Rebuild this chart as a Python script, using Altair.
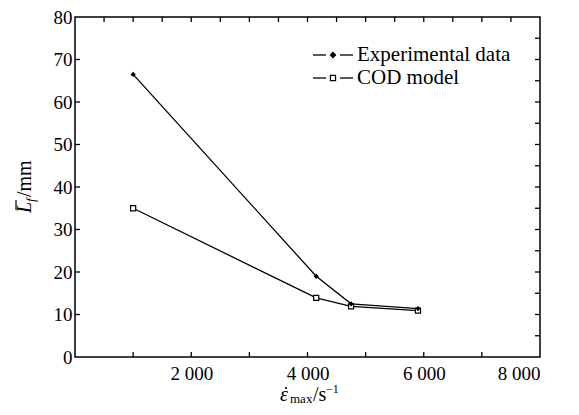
import altair as alt
import pandas as pd

# ---- data ----
strain_rate = [1000, 4150, 4750, 5900]
exp_data = [66.5, 19.0, 12.5, 11.4]
cod_model = [35.0, 13.9, 11.9, 10.9]

x_label_values = [0, 2000, 4000, 6000, 8000]
y_label_values = [0, 10, 20, 30, 40, 50, 60, 70, 80]
bottom_ticks = [1000, 2000, 3000, 4000, 5000, 6000, 7000]
top_ticks = [500 * i for i in range(1, 16)]
left_ticks = [10, 20, 30, 40, 50, 60, 70]
right_ticks = [5 * i for i in range(1, 16)]

W, H = 465, 340
FONT = "Times New Roman, Liberation Serif, serif"
FS = 19

df = pd.DataFrame({
    "rate": strain_rate * 2,
    "L": exp_data + cod_model,
    "series": ["Experimental data"] * 4 + ["COD model"] * 4,
})
df_exp = df[df.series == "Experimental data"]
df_cod = df[df.series == "COD model"]

xs = alt.Scale(domain=[0, 8000], nice=False)
ys = alt.Scale(domain=[0, 80], nice=False)

lines = alt.Chart(df).mark_line(color="black", strokeWidth=1.3).encode(
    x=alt.X("rate:Q", scale=xs, title=None,
            axis=alt.Axis(values=x_label_values, domain=False, ticks=False, grid=False,
                          tickSize=0, labelPadding=7, labelFont=FONT, labelFontSize=FS,
                          labelColor="black",
                          labelExpr="datum.value > 0 ? replace(format(datum.value, ','), ',', ' ') : ''")),
    y=alt.Y("L:Q", scale=ys, title=None,
            axis=alt.Axis(values=y_label_values, domain=False, ticks=False, grid=False,
                          tickSize=0, labelPadding=3, labelFont=FONT, labelFontSize=FS,
                          labelColor="black", labelOverlap=False)),
    detail="series:N",
)

pts_exp = alt.Chart(df_exp).mark_point(shape="diamond", filled=True, color="black", size=28, opacity=1).encode(
    x=alt.X("rate:Q", scale=xs), y=alt.Y("L:Q", scale=ys))
pts_cod = alt.Chart(df_cod).mark_point(shape="square", filled=True, fill="white", stroke="black",
                                       strokeWidth=1.2, size=26, opacity=1).encode(
    x=alt.X("rate:Q", scale=xs), y=alt.Y("L:Q", scale=ys))

def vticks(vals, y0, y1):
    return alt.Chart(pd.DataFrame({"v": vals})).mark_rule(color="black", strokeWidth=1.3).encode(
        x=alt.X("v:Q", scale=xs), y=alt.value(y0), y2=alt.value(y1))

def hticks(vals, x0, x1):
    return alt.Chart(pd.DataFrame({"v": vals})).mark_rule(color="black", strokeWidth=1.3).encode(
        y=alt.Y("v:Q", scale=ys), x=alt.value(x0), x2=alt.value(x1))

tick_layers = [
    vticks(bottom_ticks, H, H - 5),
    vticks(top_ticks, 0, 5),
    hticks(left_ticks, 0, 5),
    hticks(right_ticks, W - 5, W),
]

one = alt.Data(values=[{"a": 1}])

def txt(s, x, y, size=FS, italic=False, angle=0, align="left", baseline="alphabetic", dx=0, dy=0):
    kw = dict(text=s, font=FONT, fontSize=size, color="black", align=align,
              baseline=baseline, dx=dx, dy=dy)
    if italic:
        kw["fontStyle"] = "italic"
    if angle:
        kw["angle"] = angle
    return alt.Chart(one).mark_text(**kw).encode(x=alt.value(x), y=alt.value(y))

def seg(x0, x1, y, sw=1.3):
    return alt.Chart(one).mark_rule(color="black", strokeWidth=sw).encode(
        x=alt.value(x0), x2=alt.value(x1), y=alt.value(y))

def vseg(x, y0, y1, sw=1.2):
    return alt.Chart(one).mark_rule(color="black", strokeWidth=sw).encode(
        x=alt.value(x), y=alt.value(y0), y2=alt.value(y1))

def dot(x, y, size=5):
    return alt.Chart(one).mark_point(shape="circle", filled=True, color="black", size=size, opacity=1).encode(
        x=alt.value(x), y=alt.value(y))

legend_rows = [("Experimental data", 38, "diamond", "black"), ("COD model", 61, "square", "white")]
legend = []
for label, ry, shape, fill in legend_rows:
    legend.append(seg(238, 251, ry))
    legend.append(seg(265, 278, ry))
    legend.append(alt.Chart(one).mark_point(shape=shape, filled=True, fill=fill, stroke="black",
                                            strokeWidth=1.2, size=26, opacity=1).encode(
        x=alt.value(258), y=alt.value(ry)))
    legend.append(txt(label, 282, ry, size=21, baseline="middle"))

# axis titles
XT, YT = 205, 384
LX, LY = -44, 196
titles = [
    # x: ε̇_max / s^-1
    txt("ε", XT, YT, size=20, italic=True),
    dot(XT + 6, YT - 13, 5),
    txt("max", XT, YT, size=13, dx=10, dy=2),
    txt("/s", XT, YT, size=20, dx=33),
    txt("−1", XT, YT, size=12, dx=46, dy=-8),
    # y: L̄_f / mm (rotated)
    txt("L", LX, LY, size=20, italic=True, angle=270),
    vseg(LX - 15, LY - 3, LY - 13),
    txt("f", LX, LY, size=13, italic=True, angle=270, dx=11, dy=4),
    txt("/mm", LX, LY, size=20, angle=270, dx=16),
]

chart = alt.layer(lines, pts_cod, pts_exp, *tick_layers, *legend, *titles).properties(
    width=W, height=H,
    autosize=alt.AutoSizeParams(type="none"),
    padding={"left": 67, "top": 9, "right": 25, "bottom": 50},
    background="white",
).configure_view(stroke="black", strokeWidth=1.5)

chart.save("out.html", embed_options={"renderer": "svg", "actions": False})
